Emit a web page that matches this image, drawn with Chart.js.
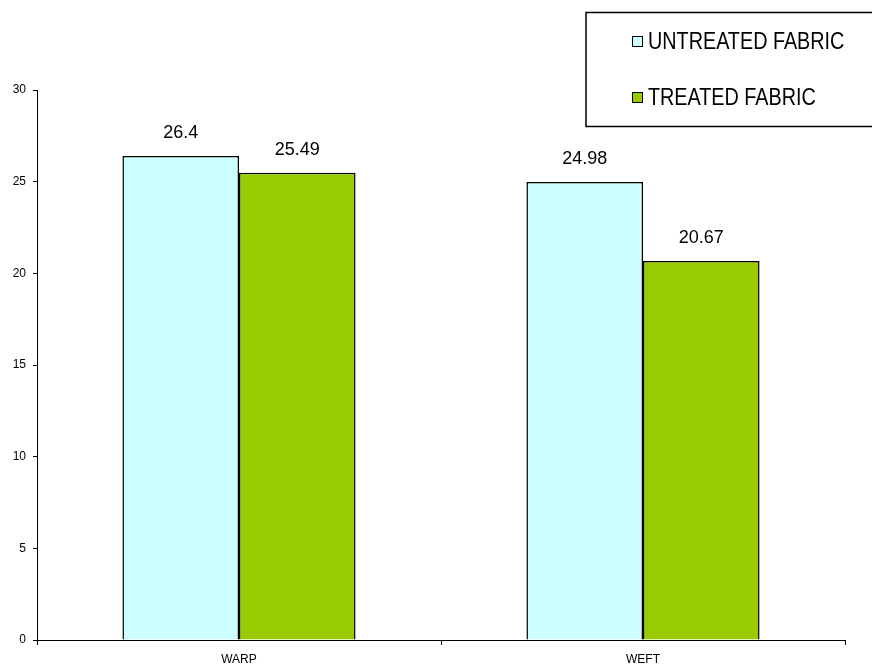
<!DOCTYPE html>
<html>
<head>
<meta charset="utf-8">
<script src="https://cdn.jsdelivr.net/npm/chart.js@4"></script>
<style>
  html, body { margin: 0; padding: 0; background: #fff; }
  #wrap { width: 872px; height: 667px; }
</style>
</head>
<body>
<div id="wrap"><canvas id="c" width="872" height="667"></canvas></div>
<script>
// categories and series
const categories = ['WARP', 'WEFT'];
const untreated = [26.4, 24.98];
const treated = [25.49, 20.67];
const seriesNames = ['UNTREATED FABRIC', 'TREATED FABRIC'];
const yTicks = [0, 5, 10, 15, 20, 25, 30];

const colors = ['#CCFFFF', '#99CC00'];

// value labels above each bar
const valueLabels = {
  id: 'valueLabels',
  afterDatasetsDraw(chart) {
    const ctx = chart.ctx;
    ctx.save();
    ctx.fillStyle = '#000';
    ctx.font = '18px "Liberation Sans", Arial, sans-serif';
    ctx.textAlign = 'center';
    ctx.textBaseline = 'bottom';
    chart.data.datasets.forEach((ds, i) => {
      chart.getDatasetMeta(i).data.forEach((bar, j) => {
        ctx.fillText(String(ds.data[j]), bar.x, bar.y - 14);
      });
    });
    ctx.restore();
  }
};

// boxed legend in the top right corner (narrow text, like the original)
const boxLegend = {
  id: 'boxLegend',
  afterDraw(chart) {
    const ctx = chart.ctx;
    ctx.save();
    ctx.strokeStyle = '#000';
    ctx.lineWidth = 1.5;
    ctx.strokeRect(586, 12.5, 300, 114);
    chart.data.datasets.forEach((ds, i) => {
      const y = 42 + i * 56;
      ctx.fillStyle = ds.backgroundColor;
      ctx.fillRect(632, y - 6, 11, 11);
      ctx.lineWidth = 1;
      ctx.strokeRect(632.5, y - 5.5, 10, 10);
      ctx.save();
      ctx.translate(648, y);
      ctx.scale(0.86, 1);
      ctx.fillStyle = '#000';
      ctx.font = '23px "Liberation Sans", Arial, sans-serif';
      ctx.textBaseline = 'middle';
      ctx.textAlign = 'left';
      ctx.fillText(ds.label, 0, 1);
      ctx.restore();
    });
    ctx.restore();
  }
};

new Chart(document.getElementById('c'), {
  type: 'bar',
  data: {
    labels: categories,
    datasets: [
      { label: seriesNames[0], data: untreated, backgroundColor: colors[0],
        borderColor: '#000', borderWidth: 1.5, borderSkipped: 'bottom',
        barPercentage: 1, categoryPercentage: 0.577 },
      { label: seriesNames[1], data: treated, backgroundColor: colors[1],
        borderColor: '#000', borderWidth: 1.5, borderSkipped: 'bottom',
        barPercentage: 1, categoryPercentage: 0.577 }
    ]
  },
  options: {
    responsive: false,
    animation: false,
    layout: { padding: { top: 90, right: 27, left: 0, bottom: 0 } },
    plugins: { legend: { display: false }, tooltip: { enabled: false } },
    scales: {
      x: {
        offset: true,
        grid: { offset: true, drawOnChartArea: false, drawTicks: true, tickLength: 5, color: '#000' },
        border: { color: '#000', width: 1 },
        ticks: { color: '#000', font: { size: 12, family: '"Liberation Sans", Arial, sans-serif' }, padding: 7 },
        afterFit: s => { s.height = 27; }
      },
      y: {
        min: 0, max: 30,
        afterBuildTicks: s => { s.ticks = yTicks.map(v => ({ value: v })); },
        grid: { drawOnChartArea: false, drawTicks: true, tickLength: 4, color: '#000' },
        border: { color: '#000', width: 1 },
        ticks: { color: '#000', font: { size: 12, family: '"Liberation Sans", Arial, sans-serif' }, padding: 7 },
        afterFit: s => { s.width = 37; }
      }
    }
  },
  plugins: [valueLabels, boxLegend]
});
</script>
</body>
</html>
